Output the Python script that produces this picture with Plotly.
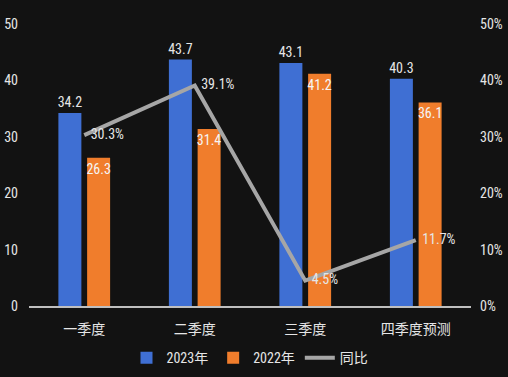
import plotly.graph_objects as go

categories = ["一季度", "二季度", "三季度", "四季度预测"]
values_2023 = [34.2, 43.7, 43.1, 40.3]
values_2022 = [26.3, 31.4, 41.2, 36.1]
yoy_pct = [30.3, 39.1, 4.5, 11.7]

font_family = "Roboto Condensed, Liberation Sans Narrow, Roboto, Noto Sans CJK SC, sans-serif"
BG = "#121212"

fig = go.Figure()
fig.add_trace(go.Bar(
    x=categories, y=values_2023, name="2023年",
    marker=dict(color="#3f6fd3", line=dict(width=0)),
    text=[f"{v:.1f}" for v in values_2023], textposition="outside",
    textfont=dict(color="#e6e6e6", size=14), cliponaxis=False,
))
fig.add_trace(go.Bar(
    x=categories, y=values_2022, name="2022年",
    marker=dict(color="#f07d2c", line=dict(width=0)),
    text=[f"{v:.1f}" for v in values_2022], textposition="inside",
    insidetextanchor="end", textangle=0,
    textfont=dict(color="#f5f5f5", size=14), cliponaxis=False,
))
fig.add_trace(go.Scatter(
    x=categories, y=yoy_pct, name="同比", yaxis="y2",
    mode="lines+text", line=dict(color="#a6a6a6", width=4),
    text=[f"  {v:.1f}%" for v in yoy_pct], textposition="middle right",
    textfont=dict(color="#e6e6e6", size=14), cliponaxis=False,
))

fig.update_layout(
    width=508, height=377,
    margin=dict(l=29, r=37, t=24, b=71),
    paper_bgcolor=BG, plot_bgcolor=BG,
    font=dict(family=font_family, color="#e6e6e6", size=14),
    barmode="group", bargap=0.48, bargroupgap=0.2,
    uniformtext=dict(minsize=14, mode="show"),
    showlegend=True,
    legend=dict(orientation="h", x=0.5, xanchor="center",
                yref="container", y=0.05, yanchor="middle",
                font=dict(size=14, color="#e6e6e6"), itemwidth=30,
                bgcolor="rgba(0,0,0,0)"),
    xaxis=dict(showline=True, linecolor="#bfbfbf", linewidth=1.5, showgrid=False,
               ticks="", tickfont=dict(size=14, color="#e6e6e6"),
               ticklabelstandoff=9, automargin=False),
    yaxis=dict(range=[0, 50], dtick=10, showgrid=False, zeroline=False,
               tickfont=dict(size=14, color="#e6e6e6"), ticklabelstandoff=10,
               automargin=False),
    yaxis2=dict(range=[0, 50], dtick=10, ticksuffix="%", overlaying="y", side="right",
                showgrid=False, zeroline=False,
                tickfont=dict(size=14, color="#e6e6e6"), ticklabelstandoff=8,
                automargin=False),
)

fig.write_html(
    "out.html",
    config={"displayModeBar": False},
    post_script=f"document.body.style.margin='0';document.body.style.background='{BG}';",
)
